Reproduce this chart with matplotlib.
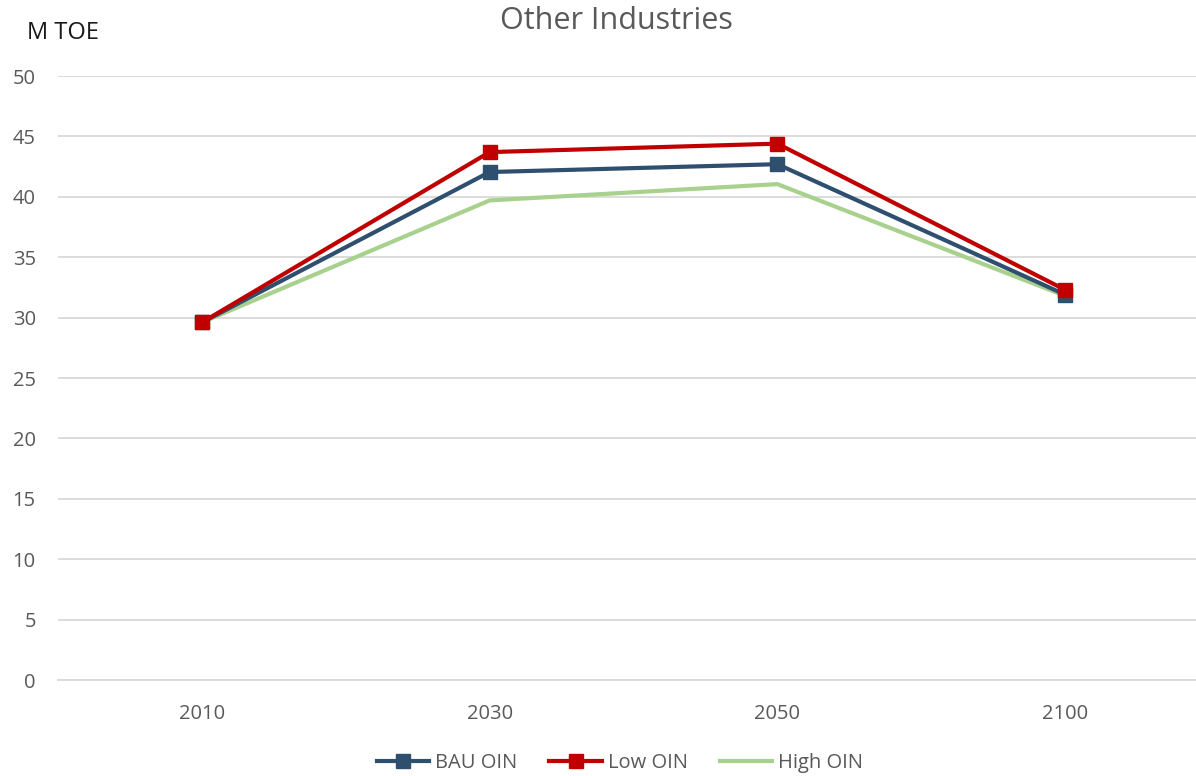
import matplotlib
matplotlib.use("Agg")
import matplotlib.pyplot as plt

years = ["2010", "2030", "2050", "2100"]
bau_oin = [29.6, 42.05, 42.7, 31.9]
low_oin = [29.6, 43.7, 44.4, 32.3]
high_oin = [29.6, 39.7, 41.05, 31.8]

plt.rcParams['font.family'] = ['Open Sans', 'DejaVu Sans']

fig = plt.figure(figsize=(11.96, 7.76), dpi=100)
ax = fig.add_axes([58 / 1196, 1 - 680 / 776, (1209 - 58) / 1196, (680 - 76) / 776])

x = range(len(years))
ax.plot(x, high_oin, color="#A9D18E", lw=3, label="High OIN", zorder=3)
ax.plot(x, bau_oin, color="#2E4F6E", lw=3, marker="s", ms=10, label="BAU OIN", zorder=4)
ax.plot(x, low_oin, color="#C00000", lw=3, marker="s", ms=10, label="Low OIN", zorder=5)

ax.set_xlim(-0.5, 3.5)
ax.set_ylim(0, 50)
ax.set_yticks(range(0, 51, 5))
ax.set_xticks(list(x))
ax.set_xticklabels(years)
ax.grid(axis="y", color="#D9D9D9", lw=1.3)
ax.set_axisbelow(True)
for s in ["top", "right", "left"]:
    ax.spines[s].set_visible(False)
ax.spines["bottom"].set_color("#D9D9D9")
ax.spines["bottom"].set_linewidth(1.3)
ax.tick_params(length=0, labelsize=14.5, colors="#595959")
ax.tick_params(axis="x", pad=17)
ax.tick_params(axis="y", pad=16)

fig.text(616 / 1196, 1 - 21 / 776, "Other Industries", ha="center", va="center",
         fontsize=22, color="#595959")
fig.text(27 / 1196, 1 - 33 / 776, "M TOE", ha="left", va="center",
         fontsize=17, color="#1a1a1a")

handles, labels = ax.get_legend_handles_labels()
order = [1, 2, 0]
fig.legend([handles[i] for i in order], [labels[i] for i in order],
           loc="center", bbox_to_anchor=(620 / 1196, 1 - 763 / 776), ncol=3,
           frameon=False, fontsize=14.5, labelcolor="#595959",
           handlelength=2.6, columnspacing=1.6, handletextpad=0.3)

plt.savefig("out.png", dpi=100)
